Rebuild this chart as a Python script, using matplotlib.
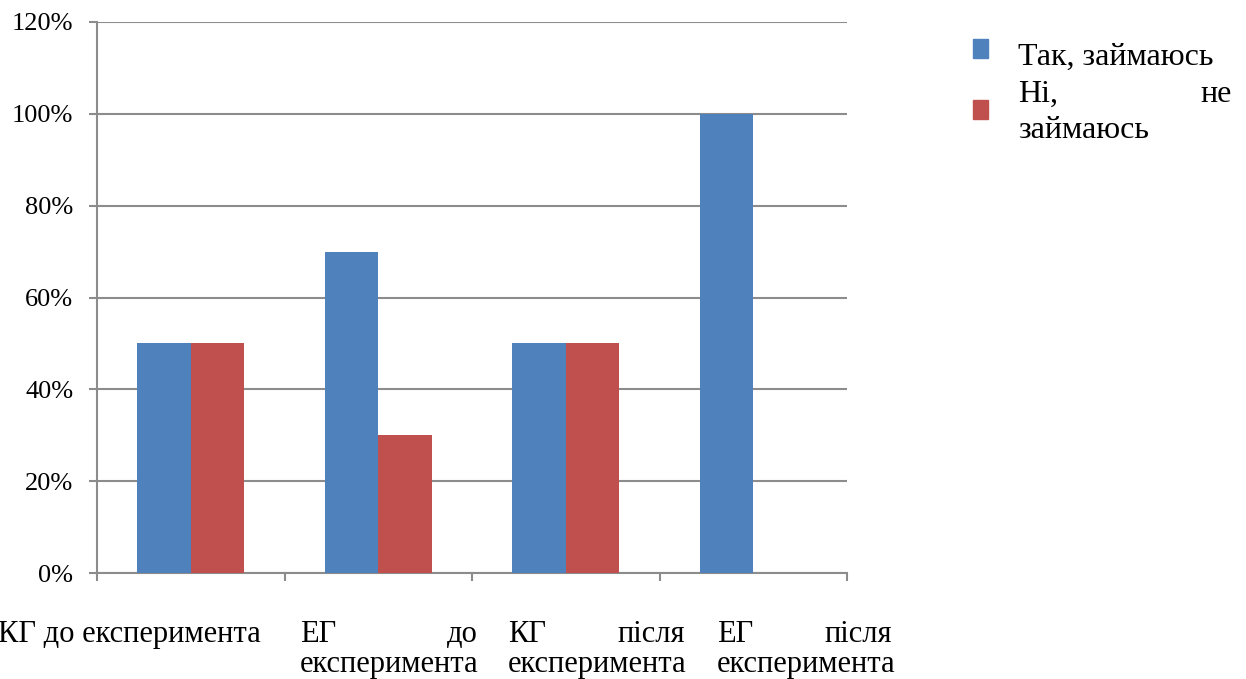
import matplotlib
matplotlib.use("Agg")
import matplotlib.pyplot as plt
from matplotlib.patches import Rectangle
import numpy as np

# survey data: share of respondents per group
groups = ["КГ до експеримента", "ЕГ до експеримента",
          "КГ після експеримента", "ЕГ після експеримента"]
yes_share = [50, 70, 50, 100]
no_share = [50, 30, 50, 0]
series_names = ["Так, займаюсь", "Ні, не займаюсь"]
y_ticks = [0, 20, 40, 60, 80, 100, 120]

blue = "#4F81BD"
red = "#C0504D"
grid_col = "#8C8C8C"

plt.rcParams["font.family"] = ["Liberation Serif", "DejaVu Serif"]
fs_y = 19
fs_x = 22
fs_leg = 23

fig = plt.figure(figsize=(12.46, 6.79), dpi=100)
W, H = 1246, 679
ax = fig.add_axes([97 / W, 1 - 573 / H, 750 / W, 551 / H])

x = np.arange(len(groups))
bw = 0.285
ax.bar(x - bw / 2, yes_share, bw, color=blue, zorder=3)
ax.bar(x + bw / 2, no_share, bw, color=red, zorder=3)

ax.set_xlim(-0.5, len(groups) - 0.5)
ax.set_ylim(0, 120)
ax.set_yticks(y_ticks)
ax.set_yticklabels([f"{v}%" for v in y_ticks], fontsize=fs_y)
ax.set_xticks(np.arange(len(groups) + 1) - 0.5)
ax.set_xticklabels([])
ax.tick_params(axis="both", color=grid_col, length=6, width=1.5)
ax.tick_params(axis="y", pad=11)
ax.yaxis.grid(True, color=grid_col, linewidth=1.5, zorder=0)
for s in ["top", "right"]:
    ax.spines[s].set_visible(False)
for s in ["left", "bottom"]:
    ax.spines[s].set_color(grid_col)
    ax.spines[s].set_linewidth(1.5)


def px_text(px, py, s, fs, ha="left"):
    fig.text(px / W, 1 - py / H, s, ha=ha, va="baseline", fontsize=fs)


def justified(left, right, py, line, fs):
    words = line.split()
    if len(words) == 1:
        px_text(left, py, line, fs)
    else:
        px_text(left, py, words[0], fs)
        px_text(right, py, words[-1], fs, ha="right")


# category labels below the axis, justified in narrow text boxes
px_text(-2, 642, groups[0], fs_x)
boxes = [(300, 478), (508, 685), (717, 892)]
for (l, r), g in zip(boxes, groups[1:]):
    first, second = g.rsplit(" ", 1)
    justified(l, r, 642, first, fs_x)
    justified(l, r, 672, second, fs_x)

# legend
for (sy, col) in [(39, blue), (100, red)]:
    fig.patches.append(Rectangle((973 / W, 1 - (sy + 19) / H), 15 / W, 19 / H,
                                 transform=fig.transFigure, color=col))
px_text(1018, 65, series_names[0], fs_leg)
w1, w2, w3 = series_names[1].split()
justified(1018, 1232, 102, w1 + " " + w2, fs_leg)
px_text(1018, 138, w3, fs_leg)

fig.savefig("out.png", dpi=100)
